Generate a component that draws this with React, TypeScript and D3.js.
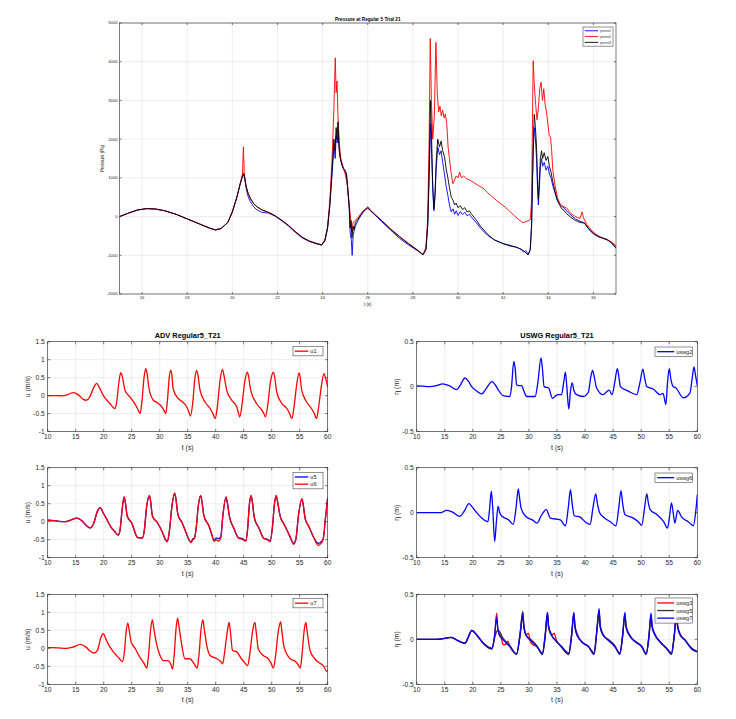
import React, { useRef, useEffect } from 'react'
import * as d3 from 'd3'

type Pt = [number, number]

// ---------- top figure: pressure ----------
const presTicksX = [16, 18, 20, 22, 24, 26, 28, 30, 32, 34, 36]
const presTicksY = [-2000, -1000, 0, 1000, 2000, 3000, 4000, 5000]
const presNames = ['press1', 'press2', 'press3']

const pres1: Pt[] = [
  [15.0, 0], [15.4, 90], [15.8, 170], [16.2, 205], [16.6, 195], [17.0, 150], [17.5, 60], [18.0, -60],
  [18.5, -180], [19.0, -300], [19.25, -345], [19.5, -310], [19.8, -150], [20.0, 120], [20.2, 500],
  [20.35, 850], [20.45, 1040], [20.5, 1080], [20.55, 980], [20.62, 700], [20.7, 520], [20.8, 380],
  [20.95, 250], [21.1, 170], [21.3, 110], [21.6, 90], [21.9, 10], [22.2, -110], [22.5, -250], [22.8, -410],
  [23.1, -550], [23.4, -640], [23.7, -700], [23.95, -740], [24.1, -630], [24.22, -300], [24.32, 300],
  [24.42, 1100], [24.5, 1800], [24.56, 1500], [24.6, 2100], [24.65, 1900], [24.7, 2200], [24.75, 1600],
  [24.82, 1400], [24.9, 1250], [25.0, 1150], [25.06, 1050], [25.12, 650], [25.18, 200], [25.22, -400],
  [25.27, -600], [25.31, -1000], [25.35, -500], [25.4, -350], [25.45, -250], [25.55, -120], [25.7, 30],
  [25.85, 150], [26.0, 220], [26.1, 160], [26.3, 50], [26.6, -120], [27.0, -340], [27.4, -560], [27.8, -730],
  [28.2, -880], [28.45, -980], [28.58, -850], [28.66, -200], [28.72, 1000], [28.78, 2400], [28.83, 1600],
  [28.88, 700], [28.93, 150], [28.98, 500], [29.03, 1200], [29.1, 1800], [29.18, 1600], [29.25, 1700],
  [29.32, 1400], [29.4, 1100], [29.47, 800], [29.55, 550], [29.62, 300], [29.7, 120], [29.78, 200],
  [29.85, 60], [29.92, 150], [30.0, 30], [30.1, 130], [30.2, 50], [30.3, 110], [30.4, 20], [30.5, 60],
  [30.6, -20], [30.8, -150], [31.0, -300], [31.3, -480], [31.6, -600], [32.0, -700], [32.3, -740],
  [32.6, -800], [32.8, -840], [32.9, -920], [33.0, -880], [33.12, -980], [33.2, -860], [33.26, -250],
  [33.3, 900], [33.34, 1800], [33.38, 2300], [33.43, 2000], [33.48, 1500], [33.52, 800], [33.56, 300],
  [33.6, 700], [33.65, 1300], [33.7, 1500], [33.75, 1300], [33.82, 1400], [33.9, 1200], [33.98, 1300],
  [34.05, 1100], [34.12, 1000], [34.2, 800], [34.3, 600], [34.4, 420], [34.5, 330], [34.6, 260],
  [34.7, 230], [34.8, 150], [35.0, 40], [35.2, -60], [35.4, -120], [35.6, -160], [35.8, -320],
  [36.0, -430], [36.2, -500], [36.4, -550], [36.6, -590], [36.8, -670], [37.0, -800],
]

const pres2: Pt[] = [
  [15.0, 0], [15.4, 90], [15.8, 170], [16.2, 205], [16.6, 195], [17.0, 150], [17.5, 60], [18.0, -60],
  [18.5, -180], [19.0, -300], [19.25, -345], [19.5, -310], [19.8, -150], [20.0, 120], [20.2, 500],
  [20.35, 850], [20.45, 1100], [20.49, 1800], [20.53, 1100], [20.6, 800], [20.7, 600], [20.8, 470],
  [20.95, 330], [21.1, 250], [21.3, 170], [21.6, 110], [21.9, 20], [22.2, -100], [22.5, -230], [22.8, -390],
  [23.1, -530], [23.4, -630], [23.7, -690], [23.95, -730], [24.1, -600], [24.22, -250], [24.32, 400],
  [24.42, 1500], [24.5, 2800], [24.56, 4100], [24.6, 3200], [24.64, 3500], [24.68, 2600], [24.74, 1900],
  [24.8, 1500], [24.9, 1300], [25.0, 1100], [25.1, 800], [25.18, 300], [25.25, -100], [25.3, -400],
  [25.35, -150], [25.45, -100], [25.6, 0], [25.8, 150], [26.0, 210], [26.1, 170], [26.3, 60], [26.6, -90],
  [27.0, -310], [27.4, -510], [27.8, -690], [28.2, -860], [28.45, -980], [28.58, -800], [28.66, 0],
  [28.72, 2000], [28.77, 4600], [28.82, 3000], [28.88, 2000], [28.95, 2600], [29.02, 4500], [29.08, 3200],
  [29.14, 2700], [29.2, 2850], [29.26, 2600], [29.32, 2750], [29.38, 2550], [29.44, 2650], [29.5, 2400],
  [29.56, 1800], [29.62, 1500], [29.7, 1100], [29.77, 850], [29.85, 950], [29.92, 1050], [30.0, 1000],
  [30.07, 1150], [30.15, 1000], [30.25, 1050], [30.36, 980], [30.5, 950], [30.7, 880], [30.9, 800],
  [31.1, 740], [31.3, 620], [31.5, 520], [31.7, 420], [31.9, 330], [32.1, 240], [32.3, 130], [32.5, 20],
  [32.7, -80], [32.87, -160], [33.05, -120], [33.2, -80], [33.26, 400], [33.3, 2500], [33.33, 4025],
  [33.38, 3400], [33.44, 2900], [33.5, 2500], [33.56, 2800], [33.62, 3300], [33.68, 3470], [33.74, 3000],
  [33.8, 3300], [33.86, 2900], [33.92, 2700], [33.98, 2400], [34.04, 2100], [34.1, 2050], [34.15, 1700],
  [34.2, 1200], [34.3, 800], [34.4, 500], [34.5, 350], [34.6, 280], [34.7, 250], [34.8, 230], [35.0, 80],
  [35.2, 0], [35.4, -50], [35.5, 120], [35.55, -20], [35.7, -200], [35.9, -350], [36.1, -450], [36.3, -530],
  [36.5, -570], [36.7, -620], [36.9, -700], [37.0, -750],
]

const pres3: Pt[] = [
  [15.0, 0], [15.4, 90], [15.8, 170], [16.2, 205], [16.6, 195], [17.0, 150], [17.5, 60], [18.0, -60],
  [18.5, -180], [19.0, -300], [19.25, -345], [19.5, -310], [19.8, -150], [20.0, 120], [20.2, 500],
  [20.35, 850], [20.45, 1050], [20.5, 1120], [20.55, 1000], [20.62, 760], [20.7, 600], [20.8, 470],
  [20.95, 330], [21.1, 250], [21.3, 180], [21.6, 110], [21.9, 20], [22.2, -100], [22.5, -240], [22.8, -400],
  [23.1, -540], [23.4, -630], [23.7, -690], [23.95, -730], [24.1, -620], [24.22, -300], [24.32, 300],
  [24.42, 1200], [24.5, 2000], [24.55, 1700], [24.6, 2300], [24.64, 2000], [24.68, 2450], [24.72, 1800],
  [24.78, 1550], [24.85, 1350], [24.92, 1250], [25.0, 1200], [25.06, 1100], [25.12, 700], [25.18, 250],
  [25.22, -300], [25.26, -100], [25.3, -550], [25.35, -250], [25.4, -350], [25.45, -150], [25.55, -80],
  [25.7, 50], [25.85, 170], [26.0, 250], [26.1, 180], [26.3, 60], [26.6, -100], [27.0, -320], [27.4, -520],
  [27.8, -700], [28.2, -870], [28.45, -990], [28.58, -850], [28.66, -200], [28.72, 1200], [28.78, 3000],
  [28.83, 2000], [28.88, 800], [28.93, 200], [28.98, 600], [29.03, 1400], [29.1, 2000], [29.18, 1800],
  [29.25, 1950], [29.32, 1700], [29.4, 1550], [29.47, 1250], [29.55, 1000], [29.62, 750], [29.7, 500],
  [29.78, 420], [29.85, 300], [29.92, 350], [30.0, 230], [30.1, 280], [30.2, 180], [30.3, 230], [30.4, 120],
  [30.5, 150], [30.6, 60], [30.8, -80], [31.0, -250], [31.3, -450], [31.6, -600], [32.0, -700], [32.3, -760],
  [32.6, -790], [32.9, -880], [33.1, -990], [33.2, -850], [33.26, -200], [33.3, 1000], [33.34, 2000],
  [33.38, 2640], [33.43, 2300], [33.48, 1800], [33.52, 1000], [33.56, 450], [33.6, 900], [33.65, 1500],
  [33.7, 1700], [33.75, 1500], [33.82, 1650], [33.9, 1450], [33.98, 1550], [34.05, 1300], [34.12, 1150],
  [34.2, 900], [34.3, 650], [34.4, 420], [34.5, 300], [34.6, 200], [34.7, 160], [34.8, 80], [35.0, -20],
  [35.2, -100], [35.4, -150], [35.6, -170], [35.8, -330], [36.0, -450], [36.2, -520], [36.4, -560],
  [36.6, -600], [36.8, -680], [37.0, -820],
]

// ---------- bottom figures: ADV and USWG ----------
const timeTicks = [10, 15, 20, 25, 30, 35, 40, 45, 50, 55, 60]
const advTicksY = [-1, -0.5, 0, 0.5, 1, 1.5]
const uswgTicksY = [-0.5, 0, 0.5]

const u1: Pt[] = [
  [10, 0], [11, 0], [12, 0], [12.5, -0.01], [13.3, 0.01], [14.5, 0.085], [15.5, 0.02], [16.3, -0.1],
  [16.9, -0.13], [17.5, -0.04], [18.2, 0.22], [18.75, 0.34], [19.3, 0.2], [19.94, 0], [20.6, -0.13],
  [21.13, -0.22], [21.7, -0.33], [22.0, -0.36], [22.3, -0.2], [22.7, 0.35], [23.04, 0.64], [23.3, 0.55],
  [23.8, 0.15], [24.7, -0.04], [25.6, -0.24], [26.1, -0.38], [26.5, -0.5], [26.8, -0.2], [27.2, 0.5],
  [27.5, 0.75], [27.7, 0.65], [28.1, 0.19], [28.87, -0.13], [29.6, -0.2], [30.36, -0.31], [30.8, -0.42],
  [31.07, -0.5], [31.4, -0.1], [31.7, 0.5], [31.96, 0.7], [32.15, 0.6], [32.4, 0.19], [33.3, -0.08],
  [34.1, -0.18], [34.8, -0.31], [35.2, -0.45], [35.5, -0.57], [35.9, -0.2], [36.3, 0.5], [36.6, 0.7],
  [36.8, 0.6], [37.2, 0.15], [38.1, -0.18], [39.0, -0.36], [39.5, -0.5], [39.9, -0.64], [40.3, -0.3],
  [40.8, 0.45], [41.2, 0.73], [41.4, 0.62], [41.96, 0.15], [42.86, -0.13], [43.75, -0.31], [44.0, -0.45],
  [44.3, -0.59], [44.7, -0.25], [45.2, 0.4], [45.65, 0.65], [45.85, 0.55], [46.25, 0.15], [47.3, -0.22],
  [48.2, -0.4], [48.6, -0.5], [48.9, -0.59], [49.3, -0.25], [49.8, 0.4], [50.3, 0.65], [50.5, 0.55],
  [50.9, 0.1], [51.8, -0.22], [52.7, -0.36], [53.2, -0.5], [53.6, -0.64], [54.0, -0.3], [54.5, 0.35],
  [54.9, 0.63], [55.05, 0.55], [55.36, 0.15], [56.25, -0.18], [57.1, -0.36], [57.6, -0.5], [58.0, -0.64],
  [58.4, -0.3], [58.9, 0.3], [59.35, 0.61], [59.6, 0.5], [60, 0.24],
]

const u5: Pt[] = [
  [10, 0.04], [11, 0.03], [12, 0.01], [13, 0], [14, 0.04], [15.2, 0.1], [16, 0.04], [17, -0.12],
  [17.6, -0.17], [18.2, -0.05], [18.9, 0.3], [19.37, 0.39], [19.9, 0.25], [20.7, 0.02], [21.3, -0.15],
  [21.9, -0.26], [22.6, -0.37], [22.9, -0.25], [23.3, 0.35], [23.64, 0.68], [23.85, 0.55], [24.2, 0.16],
  [25.1, -0.07], [25.5, -0.26], [26.0, -0.44], [26.9, -0.45], [27.2, -0.3], [27.7, 0.45], [28.15, 0.72],
  [28.35, 0.6], [28.7, 0.16], [29.6, -0.03], [30.5, -0.3], [31.0, -0.5], [31.35, -0.55], [31.7, -0.3],
  [32.2, 0.45], [32.66, 0.78], [32.85, 0.68], [33.25, 0.2], [34.0, -0.03], [34.7, -0.3], [35.2, -0.5],
  [35.6, -0.57], [35.9, -0.48], [36.2, -0.45], [36.5, -0.2], [36.9, 0.45], [37.3, 0.72], [37.5, 0.6],
  [37.9, 0.16], [38.8, -0.12], [39.3, -0.36], [39.7, -0.52], [40.1, -0.45], [40.5, -0.47], [40.9, -0.42],
  [41.3, 0.2], [41.85, 0.68], [42.05, 0.55], [42.5, 0.11], [43.2, -0.17], [44.1, -0.45], [44.8, -0.47],
  [45.4, -0.53], [45.7, -0.2], [46.0, 0.45], [46.3, 0.72], [46.5, 0.6], [46.9, 0.11], [47.7, -0.17],
  [48.55, -0.45], [49.4, -0.5], [49.7, -0.54], [50.1, -0.2], [50.5, 0.5], [50.8, 0.72], [51.0, 0.6],
  [51.5, 0.16], [52.2, -0.07], [52.8, -0.26], [53.4, -0.47], [53.9, -0.6], [54.3, -0.5], [54.8, 0.2],
  [55.4, 0.63], [55.6, 0.5], [56.0, 0.07], [56.6, -0.12], [57.5, -0.44], [58.3, -0.6], [58.8, -0.56],
  [59.2, -0.47], [59.6, 0.1], [60, 0.66],
]

const u6: Pt[] = [
  [10, 0.04], [11, 0.03], [12, 0.01], [13, 0], [14, 0.04], [15.2, 0.1], [16, 0.04], [17, -0.12],
  [17.6, -0.17], [18.2, -0.05], [18.9, 0.3], [19.37, 0.39], [19.9, 0.25], [20.7, 0.02], [21.3, -0.15],
  [21.9, -0.26], [22.6, -0.37], [22.9, -0.25], [23.3, 0.35], [23.64, 0.69], [23.85, 0.55], [24.2, 0.16],
  [25.1, -0.07], [25.5, -0.25], [26.0, -0.43], [26.9, -0.46], [27.2, -0.3], [27.7, 0.45], [28.15, 0.73],
  [28.35, 0.6], [28.7, 0.16], [29.6, -0.03], [30.5, -0.3], [31.0, -0.48], [31.35, -0.56], [31.7, -0.3],
  [32.2, 0.45], [32.66, 0.8], [32.85, 0.68], [33.25, 0.2], [34.0, -0.03], [34.7, -0.3], [35.2, -0.48],
  [35.6, -0.58], [35.9, -0.5], [36.2, -0.47], [36.5, -0.2], [36.9, 0.45], [37.3, 0.73], [37.5, 0.6],
  [37.9, 0.16], [38.8, -0.12], [39.3, -0.35], [39.7, -0.54], [40.1, -0.5], [40.5, -0.54], [40.9, -0.45],
  [41.3, 0.2], [41.85, 0.69], [42.05, 0.55], [42.5, 0.11], [43.2, -0.17], [44.1, -0.46], [44.8, -0.49],
  [45.4, -0.54], [45.7, -0.2], [46.0, 0.45], [46.3, 0.73], [46.5, 0.6], [46.9, 0.11], [47.7, -0.17],
  [48.55, -0.46], [49.4, -0.52], [49.7, -0.56], [50.1, -0.2], [50.5, 0.5], [50.8, 0.73], [51.0, 0.6],
  [51.5, 0.16], [52.2, -0.07], [52.8, -0.26], [53.4, -0.45], [53.9, -0.63], [54.3, -0.5], [54.8, 0.2],
  [55.4, 0.64], [55.6, 0.5], [56.0, 0.07], [56.6, -0.12], [57.5, -0.44], [58.3, -0.66], [58.8, -0.6],
  [59.2, -0.49], [59.6, 0.1], [60, 0.67],
]

const u7: Pt[] = [
  [10, 0.02], [11, 0.02], [12, 0.01], [13.4, 0], [14.5, 0.03], [15.8, 0.11], [16.8, 0.04], [17.6, -0.08],
  [18.3, -0.13], [18.9, -0.05], [19.5, 0.3], [19.94, 0.41], [20.4, 0.25], [21.1, 0.04], [22.0, -0.15],
  [22.7, -0.27], [23.3, -0.37], [23.7, -0.1], [24.0, 0.45], [24.3, 0.7], [24.5, 0.55], [24.9, 0.18],
  [25.6, 0], [26.5, -0.26], [27.2, -0.42], [27.7, -0.55], [28.0, -0.2], [28.4, 0.55], [28.7, 0.79],
  [28.9, 0.6], [29.3, 0.23], [30.06, -0.2], [30.65, -0.34], [31.5, -0.34], [32.0, -0.45], [32.3, -0.58],
  [32.6, -0.15], [32.95, 0.6], [33.2, 0.84], [33.4, 0.65], [33.9, 0.13], [34.5, -0.29], [35.4, -0.29],
  [36.1, -0.42], [36.7, -0.55], [37.0, -0.2], [37.4, 0.55], [37.7, 0.79], [37.9, 0.6], [38.4, 0.08],
  [39.0, -0.2], [40.2, -0.29], [40.8, -0.35], [41.25, -0.43], [41.6, -0.1], [42.1, 0.5], [42.4, 0.72],
  [42.6, 0.5], [43.0, -0.06], [43.75, -0.1], [44.6, -0.29], [45.2, -0.4], [45.7, -0.48], [46.1, -0.15],
  [46.6, 0.5], [47.0, 0.72], [47.2, 0.5], [47.6, -0.01], [48.5, -0.2], [49.4, -0.29], [49.9, -0.42],
  [50.3, -0.55], [50.7, -0.2], [51.2, 0.5], [51.6, 0.73], [51.8, 0.5], [52.2, 0.04], [53.3, -0.29],
  [54.2, -0.36], [54.7, -0.45], [55.1, -0.55], [55.4, -0.2], [55.8, 0.5], [56.1, 0.72], [56.3, 0.5],
  [56.85, -0.06], [57.7, -0.29], [58.75, -0.43], [59.3, -0.5], [59.8, -0.64], [60, -0.6],
]

const uswg2: Pt[] = [
  [10, 0.007], [11, 0.005], [12.3, 0], [13.5, 0.01], [14.6, 0.03], [15.8, 0.01], [17.1, -0.033],
  [17.8, 0.02], [18.6, 0.096], [19.2, 0.06], [19.8, 0], [20.7, -0.05], [21.6, -0.08], [22.4, -0.02],
  [23.4, 0.055], [24.0, 0.02], [24.5, -0.033], [25.4, -0.1], [26.6, -0.11], [26.9, 0], [27.3, 0.28],
  [27.55, 0.2], [27.8, 0.02], [28.2, 0.01], [28.7, 0.01], [29.1, -0.05], [29.6, -0.11], [30.5, -0.11],
  [31.1, -0.11], [31.6, 0.05], [32.15, 0.32], [32.4, 0.2], [32.7, 0], [33.5, -0.015], [34.2, -0.13],
  [34.8, -0.1], [35.2, -0.09], [35.8, -0.09], [36.2, 0.05], [36.5, 0.16], [36.75, 0], [37.1, -0.25],
  [37.4, -0.05], [37.7, 0.04], [38.0, -0.04], [38.5, -0.09], [39.7, -0.11], [40.6, -0.06], [41.0, 0.1],
  [41.35, 0.18], [41.6, 0.12], [42.06, -0.015], [43.25, -0.09], [43.8, -0.06], [44.3, -0.04], [44.8, -0.09],
  [45.3, 0.05], [45.75, 0.2], [46.0, 0.12], [46.3, 0], [47.7, -0.05], [49.2, -0.09], [49.8, 0.05],
  [50.3, 0.195], [50.6, 0.1], [51.0, 0], [52.2, -0.03], [53.35, -0.09], [53.9, -0.075], [54.4, -0.2],
  [54.7, 0.05], [55.0, 0.2], [55.3, 0.08], [55.7, 0], [56.2, -0.015], [57.5, -0.125], [58.7, -0.07],
  [59.1, 0.1], [59.4, 0.22], [59.7, 0.12], [60, 0.01],
]

const uswg6: Pt[] = [
  [10, 0], [12, 0], [14.3, 0], [15.3, 0.026], [16.3, 0.01], [17.7, -0.04], [18.5, 0.02], [19.3, 0.1],
  [19.8, 0.07], [20.5, 0.015], [22.0, -0.08], [22.7, -0.1], [23.0, 0.05], [23.3, 0.24], [23.55, 0.05],
  [23.9, -0.32], [24.2, -0.1], [24.5, 0.07], [24.8, 0], [25.2, -0.04], [26.4, -0.08], [27.2, -0.13],
  [27.7, 0.05], [28.1, 0.265], [28.3, 0.18], [28.6, 0.05], [29.4, -0.04], [30.6, -0.08], [31.45, -0.115],
  [32.3, -0.02], [33.1, 0.034], [33.8, -0.06], [35.6, -0.08], [36.5, -0.145], [37.0, 0.05], [37.4, 0.257],
  [37.7, 0.1], [38.1, -0.034], [39.1, -0.05], [40.3, -0.115], [40.9, -0.13], [41.4, 0.05], [41.9, 0.21],
  [42.2, 0.1], [42.6, 0], [43.3, -0.05], [44.5, -0.1], [45.5, -0.145], [46.0, 0.05], [46.4, 0.246],
  [46.7, 0.1], [47.1, -0.02], [48.6, -0.06], [49.5, -0.1], [50.1, -0.14], [50.6, 0.05], [51.0, 0.21],
  [51.3, 0.1], [51.6, 0.034], [52.8, -0.02], [54.0, -0.1], [54.7, -0.17], [55.1, -0.02], [55.4, 0.11],
  [55.7, 0], [56.0, -0.115], [56.5, 0.026], [57.2, -0.05], [58.4, -0.1], [59.3, -0.145], [59.7, 0],
  [60, 0.2],
]

const uswg3: Pt[] = [
  [10, 0], [12, 0], [13.6, 0], [15, 0.01], [16.1, 0.022], [17.5, -0.02], [18.6, -0.044], [19.3, 0.04],
  [19.8, 0.1], [20.7, 0.048], [21.9, -0.044], [23.4, -0.1], [23.9, 0.05], [24.25, 0.29], [24.45, 0.12],
  [24.7, 0.06], [25.0, 0.04], [25.4, -0.06], [25.8, -0.06], [26.2, -0.02], [26.6, -0.08], [27.8, -0.16],
  [28.4, 0.05], [28.9, 0.31], [29.1, 0.15], [29.5, 0.048], [29.9, 0.065], [30.3, -0.03], [30.7, -0.06],
  [31.4, -0.08], [32.4, -0.155], [32.9, 0.05], [33.3, 0.3], [33.5, 0.15], [34.05, 0.048], [34.5, 0.066],
  [34.9, -0.01], [35.8, -0.08], [37.1, -0.155], [37.6, 0.05], [38.0, 0.29], [38.2, 0.15], [38.6, 0.06],
  [39.7, -0.044], [40.6, -0.08], [41.6, -0.15], [42.1, 0.1], [42.5, 0.3], [42.7, 0.15], [43.25, 0.05],
  [44.1, -0.007], [45.3, -0.08], [46.2, -0.15], [46.7, 0.05], [47.1, 0.28], [47.3, 0.15], [47.9, 0.055],
  [48.9, -0.026], [50.1, -0.08], [50.9, -0.16], [51.4, 0.05], [51.75, 0.27], [51.95, 0.15], [52.5, 0.05],
  [53.35, -0.026], [54.5, -0.1], [55.4, -0.15], [55.9, 0.05], [56.3, 0.28], [56.5, 0.15], [57.0, 0.05],
  [57.8, -0.007], [59.0, -0.1], [59.5, -0.12], [60, -0.137],
]

const uswg5: Pt[] = [
  [10, 0], [12, 0], [13.6, 0], [15, 0.01], [16.1, 0.022], [17.5, -0.02], [18.6, -0.044], [19.3, 0.04],
  [19.8, 0.1], [20.7, 0.045], [21.9, -0.05], [23.4, -0.11], [23.9, 0.02], [24.4, 0.1], [24.7, 0.09],
  [25.4, 0.01], [26.6, -0.07], [27.8, -0.17], [28.4, 0.03], [28.9, 0.25], [29.1, 0.13], [29.5, 0.04],
  [30.5, -0.01], [31.4, -0.07], [32.4, -0.17], [32.9, 0.03], [33.3, 0.27], [33.5, 0.13], [34.05, 0.04],
  [34.9, -0.02], [35.8, -0.09], [37.1, -0.17], [37.6, 0.03], [38.0, 0.27], [38.2, 0.13], [38.6, 0.04],
  [39.7, -0.04], [40.6, -0.08], [41.6, -0.17], [42.1, 0.08], [42.5, 0.32], [42.7, 0.13], [43.25, 0.04],
  [44.1, 0], [45.3, -0.07], [46.2, -0.17], [46.7, 0.03], [47.1, 0.27], [47.3, 0.13], [47.9, 0.04],
  [48.9, -0.02], [50.1, -0.08], [50.9, -0.17], [51.4, 0.03], [51.75, 0.26], [51.95, 0.13], [52.5, 0.04],
  [53.35, -0.03], [54.5, -0.1], [55.4, -0.17], [55.9, 0.03], [56.3, 0.26], [56.5, 0.13], [57.0, 0.04],
  [57.8, -0.01], [59.0, -0.11], [59.5, -0.13], [60, -0.14],
]

const uswg7: Pt[] = [
  [10, 0], [12, 0], [13.6, 0], [15, 0.01], [16.1, 0.022], [17.5, -0.02], [18.6, -0.044], [19.3, 0.04],
  [19.8, 0.1], [20.7, 0.048], [21.9, -0.044], [23.4, -0.1], [23.9, 0.05], [24.25, 0.25], [24.45, 0.12],
  [24.7, 0.048], [25.4, -0.007], [26.6, -0.08], [27.8, -0.16], [28.4, 0.05], [28.9, 0.3], [29.1, 0.15],
  [29.5, 0.048], [30.5, -0.026], [31.4, -0.08], [32.4, -0.155], [32.9, 0.05], [33.3, 0.3], [33.5, 0.15],
  [34.05, 0.048], [34.9, -0.026], [35.8, -0.08], [37.1, -0.155], [37.6, 0.05], [38.0, 0.3], [38.2, 0.15],
  [38.6, 0.048], [39.7, -0.044], [40.6, -0.08], [41.6, -0.155], [42.1, 0.1], [42.5, 0.34], [42.7, 0.15],
  [43.25, 0.048], [44.1, -0.007], [45.3, -0.08], [46.2, -0.155], [46.7, 0.05], [47.1, 0.3], [47.3, 0.15],
  [47.9, 0.048], [48.9, -0.026], [50.1, -0.08], [50.9, -0.16], [51.4, 0.05], [51.75, 0.29], [51.95, 0.15],
  [52.5, 0.048], [53.35, -0.026], [54.5, -0.1], [55.4, -0.155], [55.9, 0.05], [56.3, 0.3], [56.5, 0.15],
  [57.0, 0.048], [57.8, -0.007], [59.0, -0.1], [59.5, -0.12], [60, -0.137],
]

const FONT = '"Liberation Sans", Arial, sans-serif'
const INK = '#262626'

interface Series { data: Pt[]; color: string; label: string; width: number }
interface Panel {
  id: string
  box: [number, number, number, number] // left, top, right, bottom
  xDomain: [number, number]
  yDomain: [number, number]
  xTicks: number[]
  yTicks: number[]
  series: Series[]
  title?: string
  xLabel: string
  yLabel: string
  yLabelX: number
  legend: [number, number, number, number] // left, top, width, row height
  small?: boolean
  curve: d3.CurveFactory
}

function drawPanel(svg: d3.Selection<SVGSVGElement, unknown, null, undefined>, p: Panel) {
  const [l, t, r, b] = p.box
  const fs = p.small ? 4.2 : 6.6
  const tick = p.small ? 2 : 2.6
  const x = d3.scaleLinear().domain(p.xDomain).range([l, r])
  const y = d3.scaleLinear().domain(p.yDomain).range([b, t])
  const g = svg.append('g').attr('font-family', FONT)

  g.append('clipPath').attr('id', `clip-${p.id}`)
    .append('rect').attr('x', l).attr('y', t).attr('width', r - l).attr('height', b - t)

  // grid
  g.append('g').selectAll('line').data(p.xTicks).join('line')
    .attr('x1', d => x(d)).attr('x2', d => x(d)).attr('y1', t).attr('y2', b)
    .attr('stroke', '#e3e3e3').attr('stroke-width', 0.6)
  g.append('g').selectAll('line').data(p.yTicks).join('line')
    .attr('x1', l).attr('x2', r).attr('y1', d => y(d)).attr('y2', d => y(d))
    .attr('stroke', '#e3e3e3').attr('stroke-width', 0.6)

  // data lines
  const line = d3.line<Pt>().x(d => x(d[0])).y(d => y(d[1])).curve(p.curve)
  const lg = g.append('g').attr('clip-path', `url(#clip-${p.id})`)
  p.series.forEach(s => {
    lg.append('path').attr('d', line(s.data)).attr('fill', 'none')
      .attr('stroke', s.color).attr('stroke-width', s.width).attr('stroke-linejoin', 'round')
  })

  // box + inward ticks
  g.append('rect').attr('x', l).attr('y', t).attr('width', r - l).attr('height', b - t)
    .attr('fill', 'none').attr('stroke', INK).attr('stroke-width', 0.6)
  g.append('g').selectAll('path').data(p.xTicks).join('path')
    .attr('d', d => `M${x(d)},${b}v${-tick}M${x(d)},${t}v${tick}`)
    .attr('stroke', INK).attr('stroke-width', 0.6)
  g.append('g').selectAll('path').data(p.yTicks).join('path')
    .attr('d', d => `M${l},${y(d)}h${tick}M${r},${y(d)}h${-tick}`)
    .attr('stroke', INK).attr('stroke-width', 0.6)

  // tick labels
  g.append('g').selectAll('text').data(p.xTicks).join('text')
    .attr('x', d => x(d)).attr('y', b + fs * 1.15).attr('text-anchor', 'middle')
    .attr('font-size', fs).attr('fill', INK).text(d => String(d))
  g.append('g').selectAll('text').data(p.yTicks).join('text')
    .attr('x', l - fs * 0.45).attr('y', d => y(d) + fs * 0.35).attr('text-anchor', 'end')
    .attr('font-size', fs).attr('fill', INK).text(d => String(d))

  // labels
  g.append('text').attr('x', (l + r) / 2).attr('y', b + fs * 2.75).attr('text-anchor', 'middle')
    .attr('font-size', fs * 1.05).attr('fill', INK).text(p.xLabel)
  g.append('text').attr('transform', `translate(${p.yLabelX},${(t + b) / 2}) rotate(-90)`)
    .attr('text-anchor', 'middle').attr('font-size', fs * 1.05).attr('fill', INK).text(p.yLabel)
  if (p.title) {
    g.append('text').attr('x', (l + r) / 2).attr('y', t - fs * 0.55).attr('text-anchor', 'middle')
      .attr('font-size', fs * 1.12).attr('font-weight', 'bold').attr('fill', '#000').text(p.title)
  }

  // legend
  const [lx, ly, lw, rh] = p.legend
  const lgd = g.append('g')
  lgd.append('rect').attr('x', lx).attr('y', ly).attr('width', lw).attr('height', rh * p.series.length + rh * 0.3)
    .attr('fill', '#fff').attr('stroke', INK).attr('stroke-width', 0.5)
  const lineLen = lw * 0.45
  p.series.forEach((s, i) => {
    const cy = ly + rh * (i + 0.65)
    lgd.append('line').attr('x1', lx + lw * 0.06).attr('x2', lx + lw * 0.06 + lineLen)
      .attr('y1', cy).attr('y2', cy).attr('stroke', s.color).attr('stroke-width', s.width)
    lgd.append('text').attr('x', lx + lw * 0.06 + lineLen + 2).attr('y', cy + fs * 0.32)
      .attr('font-size', fs * 0.85).attr('fill', INK).text(s.label)
  })
}

export default function App() {
  const svgRef = useRef<SVGSVGElement>(null)

  useEffect(() => {
    const svg = d3.select(svgRef.current as SVGSVGElement)
    svg.selectAll('*').remove()

    const smooth = d3.curveMonotoneX
    const adv = { xDomain: [10, 60] as [number, number], yDomain: [-1, 1.5] as [number, number], xTicks: timeTicks, yTicks: advTicksY, xLabel: 't (s)', yLabel: 'u (m/s)', yLabelX: 30, curve: smooth }
    const wg = { xDomain: [10, 60] as [number, number], yDomain: [-0.5, 0.5] as [number, number], xTicks: timeTicks, yTicks: uswgTicksY, xLabel: 't (s)', yLabel: 'η (m)', yLabelX: 398.5, curve: smooth }

    const panels: Panel[] = [
      {
        id: 'pres', box: [119.5, 23, 616, 294], xDomain: [15, 37], yDomain: [-2000, 5000],
        xTicks: presTicksX, yTicks: presTicksY, title: 'Pressure at Regular 5 Trial 21',
        xLabel: 't (s)', yLabel: 'Pressure (Pa)', yLabelX: 104, small: true, curve: d3.curveLinear,
        legend: [583, 27, 30, 5.8],
        series: [
          { data: pres1, color: '#0000ff', label: presNames[0], width: 0.9 },
          { data: pres2, color: '#ff0000', label: presNames[1], width: 0.9 },
          { data: pres3, color: '#000000', label: presNames[2], width: 0.9 },
        ],
      },
      { id: 'adv1', box: [47.7, 341.7, 327.7, 431.5], ...adv, title: 'ADV Regular5_T21', legend: [293, 346.5, 30, 7.2],
        series: [{ data: u1, color: '#ff0000', label: 'u1', width: 1.3 }] },
      { id: 'adv2', box: [47.7, 467.7, 327.7, 557.7], ...adv, legend: [293, 472.3, 30, 7.2],
        series: [
          { data: u5, color: '#0000ff', label: 'u5', width: 1.3 },
          { data: u6, color: '#ff0000', label: 'u6', width: 1.3 },
        ] },
      { id: 'adv3', box: [47.7, 594.3, 327.7, 684.3], ...adv, legend: [293, 598.5, 30, 7.2],
        series: [{ data: u7, color: '#ff0000', label: 'u7', width: 1.3 }] },
      { id: 'wg1', box: [416.7, 341.7, 697.3, 431.5], ...wg, title: 'USWG Regular5_T21', legend: [655, 347, 37.5, 7.2],
        series: [{ data: uswg2, color: '#0000ff', label: 'uswg2', width: 1.3 }] },
      { id: 'wg2', box: [416.7, 467.7, 697.3, 557.7], ...wg, legend: [655, 473, 37.5, 7.2],
        series: [{ data: uswg6, color: '#0000ff', label: 'uswg6', width: 1.3 }] },
      { id: 'wg3', box: [416.7, 594.3, 697.3, 684.3], ...wg, legend: [655, 598, 37.5, 7.6],
        series: [
          { data: uswg3, color: '#ff0000', label: 'uswg3', width: 1.3 },
          { data: uswg5, color: '#333333', label: 'uswg5', width: 1.3 },
          { data: uswg7, color: '#0000ff', label: 'uswg7', width: 1.3 },
        ] },
    ]
    panels.forEach(p => drawPanel(svg, p))
  }, [])

  return (
    <svg ref={svgRef} width={736} height={719}
      style={{ position: 'absolute', left: 0, top: 0, background: '#fff' }} />
  )
}
